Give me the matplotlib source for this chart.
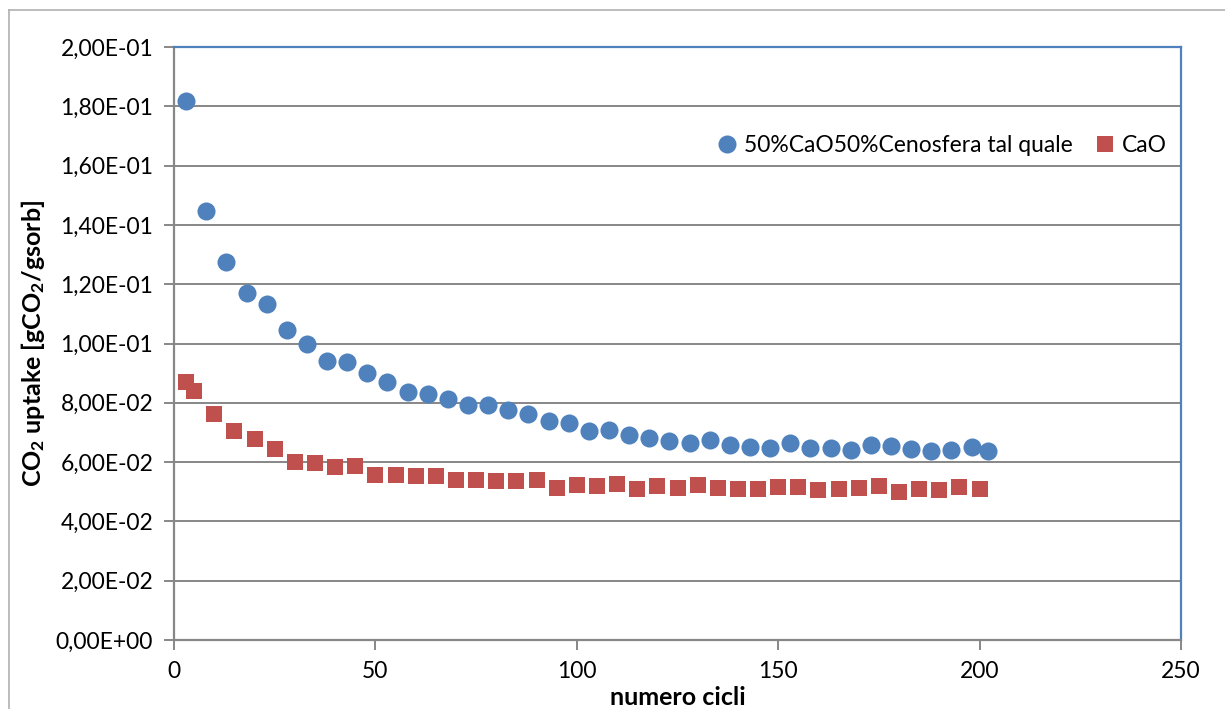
import numpy as np
import matplotlib
matplotlib.use("Agg")
import matplotlib.pyplot as plt
from matplotlib.ticker import FuncFormatter, MultipleLocator
from matplotlib.lines import Line2D

# --- data ---
cycles_ceno = [3, 8, 13, 18, 23, 28, 33, 38, 43, 48, 53, 58, 63, 68, 73, 78, 83, 88,
               93, 98, 103, 108, 113, 118, 123, 128, 133, 138, 143, 148, 153, 158,
               163, 168, 173, 178, 183, 188, 193, 198, 202]
uptake_ceno = [0.1819, 0.1448, 0.1274, 0.1171, 0.1132, 0.1046, 0.0997, 0.0940, 0.0939,
               0.0900, 0.0870, 0.0835, 0.0831, 0.0812, 0.0793, 0.0793, 0.0775, 0.0763,
               0.0738, 0.0733, 0.0705, 0.0708, 0.0690, 0.0680, 0.0670, 0.0663, 0.0676,
               0.0658, 0.0652, 0.0649, 0.0663, 0.0647, 0.0649, 0.0641, 0.0657, 0.0653,
               0.0644, 0.0636, 0.0640, 0.0650, 0.0638]

cycles_cao = [3, 5, 10, 15, 20, 25, 30, 35, 40, 45, 50, 55, 60, 65, 70, 75, 80, 85,
              90, 95, 100, 105, 110, 115, 120, 125, 130, 135, 140, 145, 150, 155,
              160, 165, 170, 175, 180, 185, 190, 195, 200]
uptake_cao = [0.0871, 0.0841, 0.0761, 0.0705, 0.0678, 0.0645, 0.0599, 0.0598, 0.0584,
              0.0587, 0.0556, 0.0556, 0.0553, 0.0554, 0.0540, 0.0540, 0.0537, 0.0536,
              0.0540, 0.0514, 0.0524, 0.0518, 0.0525, 0.0510, 0.0518, 0.0514, 0.0524,
              0.0514, 0.0509, 0.0508, 0.0515, 0.0517, 0.0506, 0.0510, 0.0512, 0.0519,
              0.0500, 0.0509, 0.0506, 0.0517, 0.0509]

label_ceno = "50%CaO50%Cenosfera tal quale"
label_cao = "CaO"

plt.rcParams['font.family'] = ['Lato', 'DejaVu Sans']
plt.rcParams['mathtext.fontset'] = 'custom'
plt.rcParams['mathtext.rm'] = 'Lato'
plt.rcParams['mathtext.bf'] = 'Lato:bold'
plt.rcParams['mathtext.default'] = 'bf'

fig = plt.figure(figsize=(12.25, 7.09), dpi=100)
ax = fig.add_axes([174 / 1225, 69 / 709, 1007 / 1225, 593 / 709])

grid_col = '#878787'
blue = '#4F81BD'
red = '#C0504D'
fs = 16.5

ax.plot(cycles_ceno, uptake_ceno, 'o', color=blue, markersize=13, markeredgewidth=0,
        label=label_ceno, zorder=3, clip_on=False)
ax.plot(cycles_cao, uptake_cao, 's', color=red, markersize=11, markeredgewidth=0,
        label=label_cao, zorder=3, clip_on=False)

ax.set_xlim(0, 250)
ax.set_ylim(0, 0.2)
ax.xaxis.set_major_locator(MultipleLocator(50))
ax.yaxis.set_major_locator(MultipleLocator(0.02))
ax.yaxis.set_major_formatter(FuncFormatter(lambda v, p: f"{v:.2E}".replace('.', ',')))

ax.grid(axis='y', color=grid_col, linewidth=1.4, zorder=1)
ax.set_axisbelow(True)

for side in ['left', 'bottom']:
    ax.spines[side].set_color(grid_col)
    ax.spines[side].set_linewidth(1.6)
for side in ['top', 'right']:
    ax.spines[side].set_color(blue)
    ax.spines[side].set_linewidth(1.6)

ax.tick_params(axis='both', direction='out', length=7, width=1.4, color=grid_col,
               labelsize=fs, labelcolor='black')
ax.tick_params(axis='y', pad=8)
ax.tick_params(axis='x', pad=8)

ax.set_xlabel("numero cicli", fontsize=18, fontweight='bold')
ax.xaxis.set_label_coords(0.5, -0.077)
ax.set_ylabel(r"CO$_2$ uptake [gCO$_2$/gsorb]", fontsize=18, fontweight='bold')
ax.yaxis.set_label_coords(-0.126, 0.5)

ax.legend(loc='upper right', bbox_to_anchor=(1.0, 0.875), ncol=2, frameon=False,
          fontsize=fs, handletextpad=0.25, columnspacing=0.9, handlelength=1.0,
          borderaxespad=0.2)

# outer chart frame (left and top edges visible)
fig.add_artist(Line2D([9 / 1225, 9 / 1225], [0, 1 - 10 / 709], transform=fig.transFigure,
                      color='#b0b0b0', linewidth=1.2))
fig.add_artist(Line2D([9 / 1225, 1], [1 - 10 / 709, 1 - 10 / 709], transform=fig.transFigure,
                      color='#b0b0b0', linewidth=1.2))

fig.savefig('out.png', dpi=100)
